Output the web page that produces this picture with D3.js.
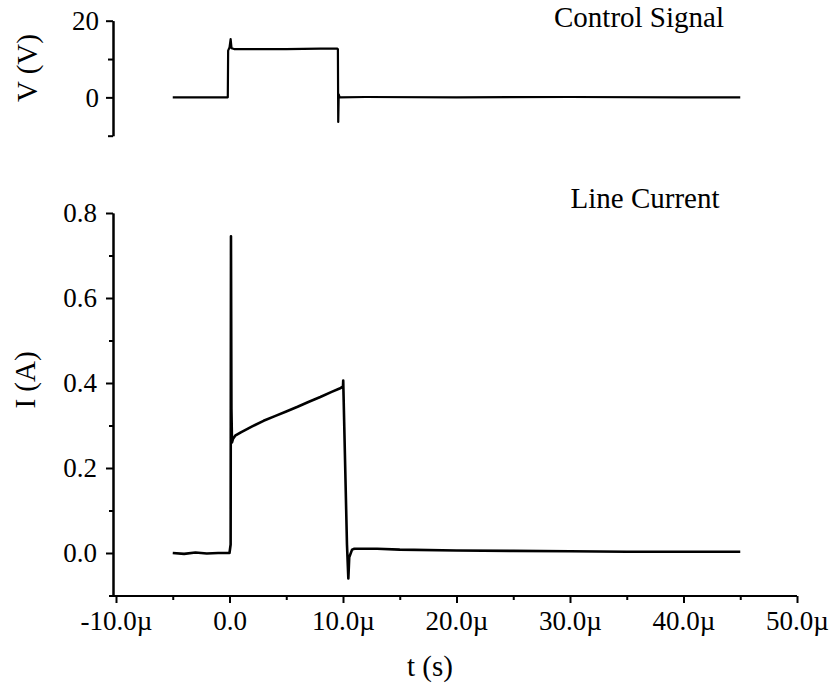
<!DOCTYPE html>
<html>
<head>
<meta charset="utf-8">
<script src="https://cdn.jsdelivr.net/npm/d3@7"></script>
<style>
  html, body { margin: 0; padding: 0; background: #fff; }
  svg text { font-family: "Liberation Serif", "Times New Roman", serif !important; fill: #000; }
</style>
</head>
<body>
<svg id="chart" width="835" height="694"></svg>
<script>
// ---- data (time in microseconds) ----
const ctrlT = [-5, -0.15, -0.12, 0.0, 0.1, 0.18, 0.4, 2, 5, 8, 9.5, 9.55, 9.58, 9.62, 9.7, 12, 20, 30, 40, 45];
const ctrlV = [0, 0, 12.2, 13.0, 15.2, 12.8, 12.6, 12.6, 12.6, 12.7, 12.7, 12.6, -6.4, 0.8, 0, 0.1, 0, 0.1, 0, 0];

const curT = [-5, -4, -3, -2, -1, 0, 0.1, 0.13, 0.17, 0.22, 0.3, 0.5, 1, 2, 3, 4, 5, 6, 7, 8, 9, 9.7, 9.9, 10.0, 10.02, 10.05, 10.35, 10.47, 10.55, 10.8, 11, 13, 15, 20, 25, 30, 35, 40, 45];
const curI = [0, -0.002, 0.001, -0.001, 0, 0, 0.02, 0.745, 0.34, 0.26, 0.268, 0.276, 0.284, 0.298, 0.311, 0.322, 0.333, 0.344, 0.356, 0.367, 0.379, 0.387, 0.39, 0.392, 0.406, 0.37, 0.02, -0.06, -0.01, 0.008, 0.010, 0.010, 0.008, 0.006, 0.005, 0.004, 0.003, 0.003, 0.003];

const xMajorTicks = [-10, 0, 10, 20, 30, 40, 50];
const xTickLabels = ["-10.0\u00b5", "0.0", "10.0\u00b5", "20.0\u00b5", "30.0\u00b5", "40.0\u00b5", "50.0\u00b5"];
const xMinorTicks = [-5, 5, 15, 25, 35, 45];

const vMajorTicks = [0, 20];
const vMinorTicks = [-10, 10];
const iMajorTicks = [0, 0.2, 0.4, 0.6, 0.8];
const iTickLabels = ["0.0", "0.2", "0.4", "0.6", "0.8"];
const iMinorTicks = [-0.1, 0.1, 0.3, 0.5, 0.7];

// ---- layout ----
const svg = d3.select("#chart");
const axisX = 113;
const x = d3.scaleLinear().domain([-10, 50]).range([116, 797]);
const yV = d3.scaleLinear().domain([-10, 20]).range([135.7, 20.7]);
const yI = d3.scaleLinear().domain([-0.1, 0.8]).range([595.5, 213]);
const FONT = "Liberation Serif";

function styleAxis(g) {
  g.attr("font-family", FONT).attr("font-size", 27);
  g.selectAll("path.domain").attr("stroke", "#000").attr("stroke-width", 2);
  g.selectAll(".tick line").attr("stroke", "#000").attr("stroke-width", 2);
  g.selectAll(".tick text").attr("font-family", FONT).attr("font-size", 27);
}

// Top panel y axis
const gV = svg.append("g").attr("transform", `translate(${axisX},0)`);
gV.call(d3.axisLeft(yV).tickValues(vMajorTicks).tickSize(7).tickSizeOuter(0).tickPadding(7).tickFormat(d3.format("d")));
styleAxis(gV);
const gVm = svg.append("g").attr("transform", `translate(${axisX},0)`);
gVm.call(d3.axisLeft(yV).tickValues(vMinorTicks).tickSize(5).tickSizeOuter(0).tickFormat(""));
styleAxis(gVm);

// Bottom panel y axis
const gI = svg.append("g").attr("transform", `translate(${axisX},0)`);
gI.call(d3.axisLeft(yI).tickValues(iMajorTicks).tickSize(7).tickSizeOuter(0).tickPadding(9)
  .tickFormat((d, i) => iTickLabels[i]));
styleAxis(gI);
const gIm = svg.append("g").attr("transform", `translate(${axisX},0)`);
gIm.call(d3.axisLeft(yI).tickValues(iMinorTicks).tickSize(4).tickSizeOuter(0).tickFormat(""));
styleAxis(gIm);

// Bottom x axis
const xAxisY = 596;
const gX = svg.append("g").attr("transform", `translate(0,${xAxisY})`);
gX.call(d3.axisBottom(x).tickValues(xMajorTicks).tickSize(7).tickSizeOuter(0).tickPadding(8)
  .tickFormat((d, i) => xTickLabels[i]));
styleAxis(gX);
gX.select("path.domain").attr("d", `M${axisX},0H${x(50)}`);
const gXm = svg.append("g").attr("transform", `translate(0,${xAxisY})`);
gXm.call(d3.axisBottom(x).tickValues(xMinorTicks).tickSize(4).tickSizeOuter(0).tickFormat(""));
styleAxis(gXm);
gXm.select("path.domain").remove();

// Traces
const ctrlLine = d3.line().x((d, i) => x(ctrlT[i])).y(d => yV(d));
svg.append("path").attr("d", ctrlLine(ctrlV))
  .attr("fill", "none").attr("stroke", "#000").attr("stroke-width", 2.2).attr("stroke-linejoin", "round");

const curLine = d3.line().x((d, i) => x(curT[i])).y(d => yI(d));
svg.append("path").attr("d", curLine(curI))
  .attr("fill", "none").attr("stroke", "#000").attr("stroke-width", 2.6).attr("stroke-linejoin", "round");

// Titles and labels
function label(sel) { return sel.attr("font-family", FONT).attr("font-size", 29).attr("text-anchor", "middle"); }
label(svg.append("text").attr("x", 639).attr("y", 27)).text("Control Signal");
label(svg.append("text").attr("x", 645).attr("y", 208)).text("Line Current");
label(svg.append("text").attr("transform", "translate(37,68) rotate(-90)")).text("V (V)");
label(svg.append("text").attr("transform", "translate(35,380) rotate(-90)")).text("I (A)");
label(svg.append("text").attr("x", 430).attr("y", 676)).text("t (s)");
</script>
</body>
</html>
